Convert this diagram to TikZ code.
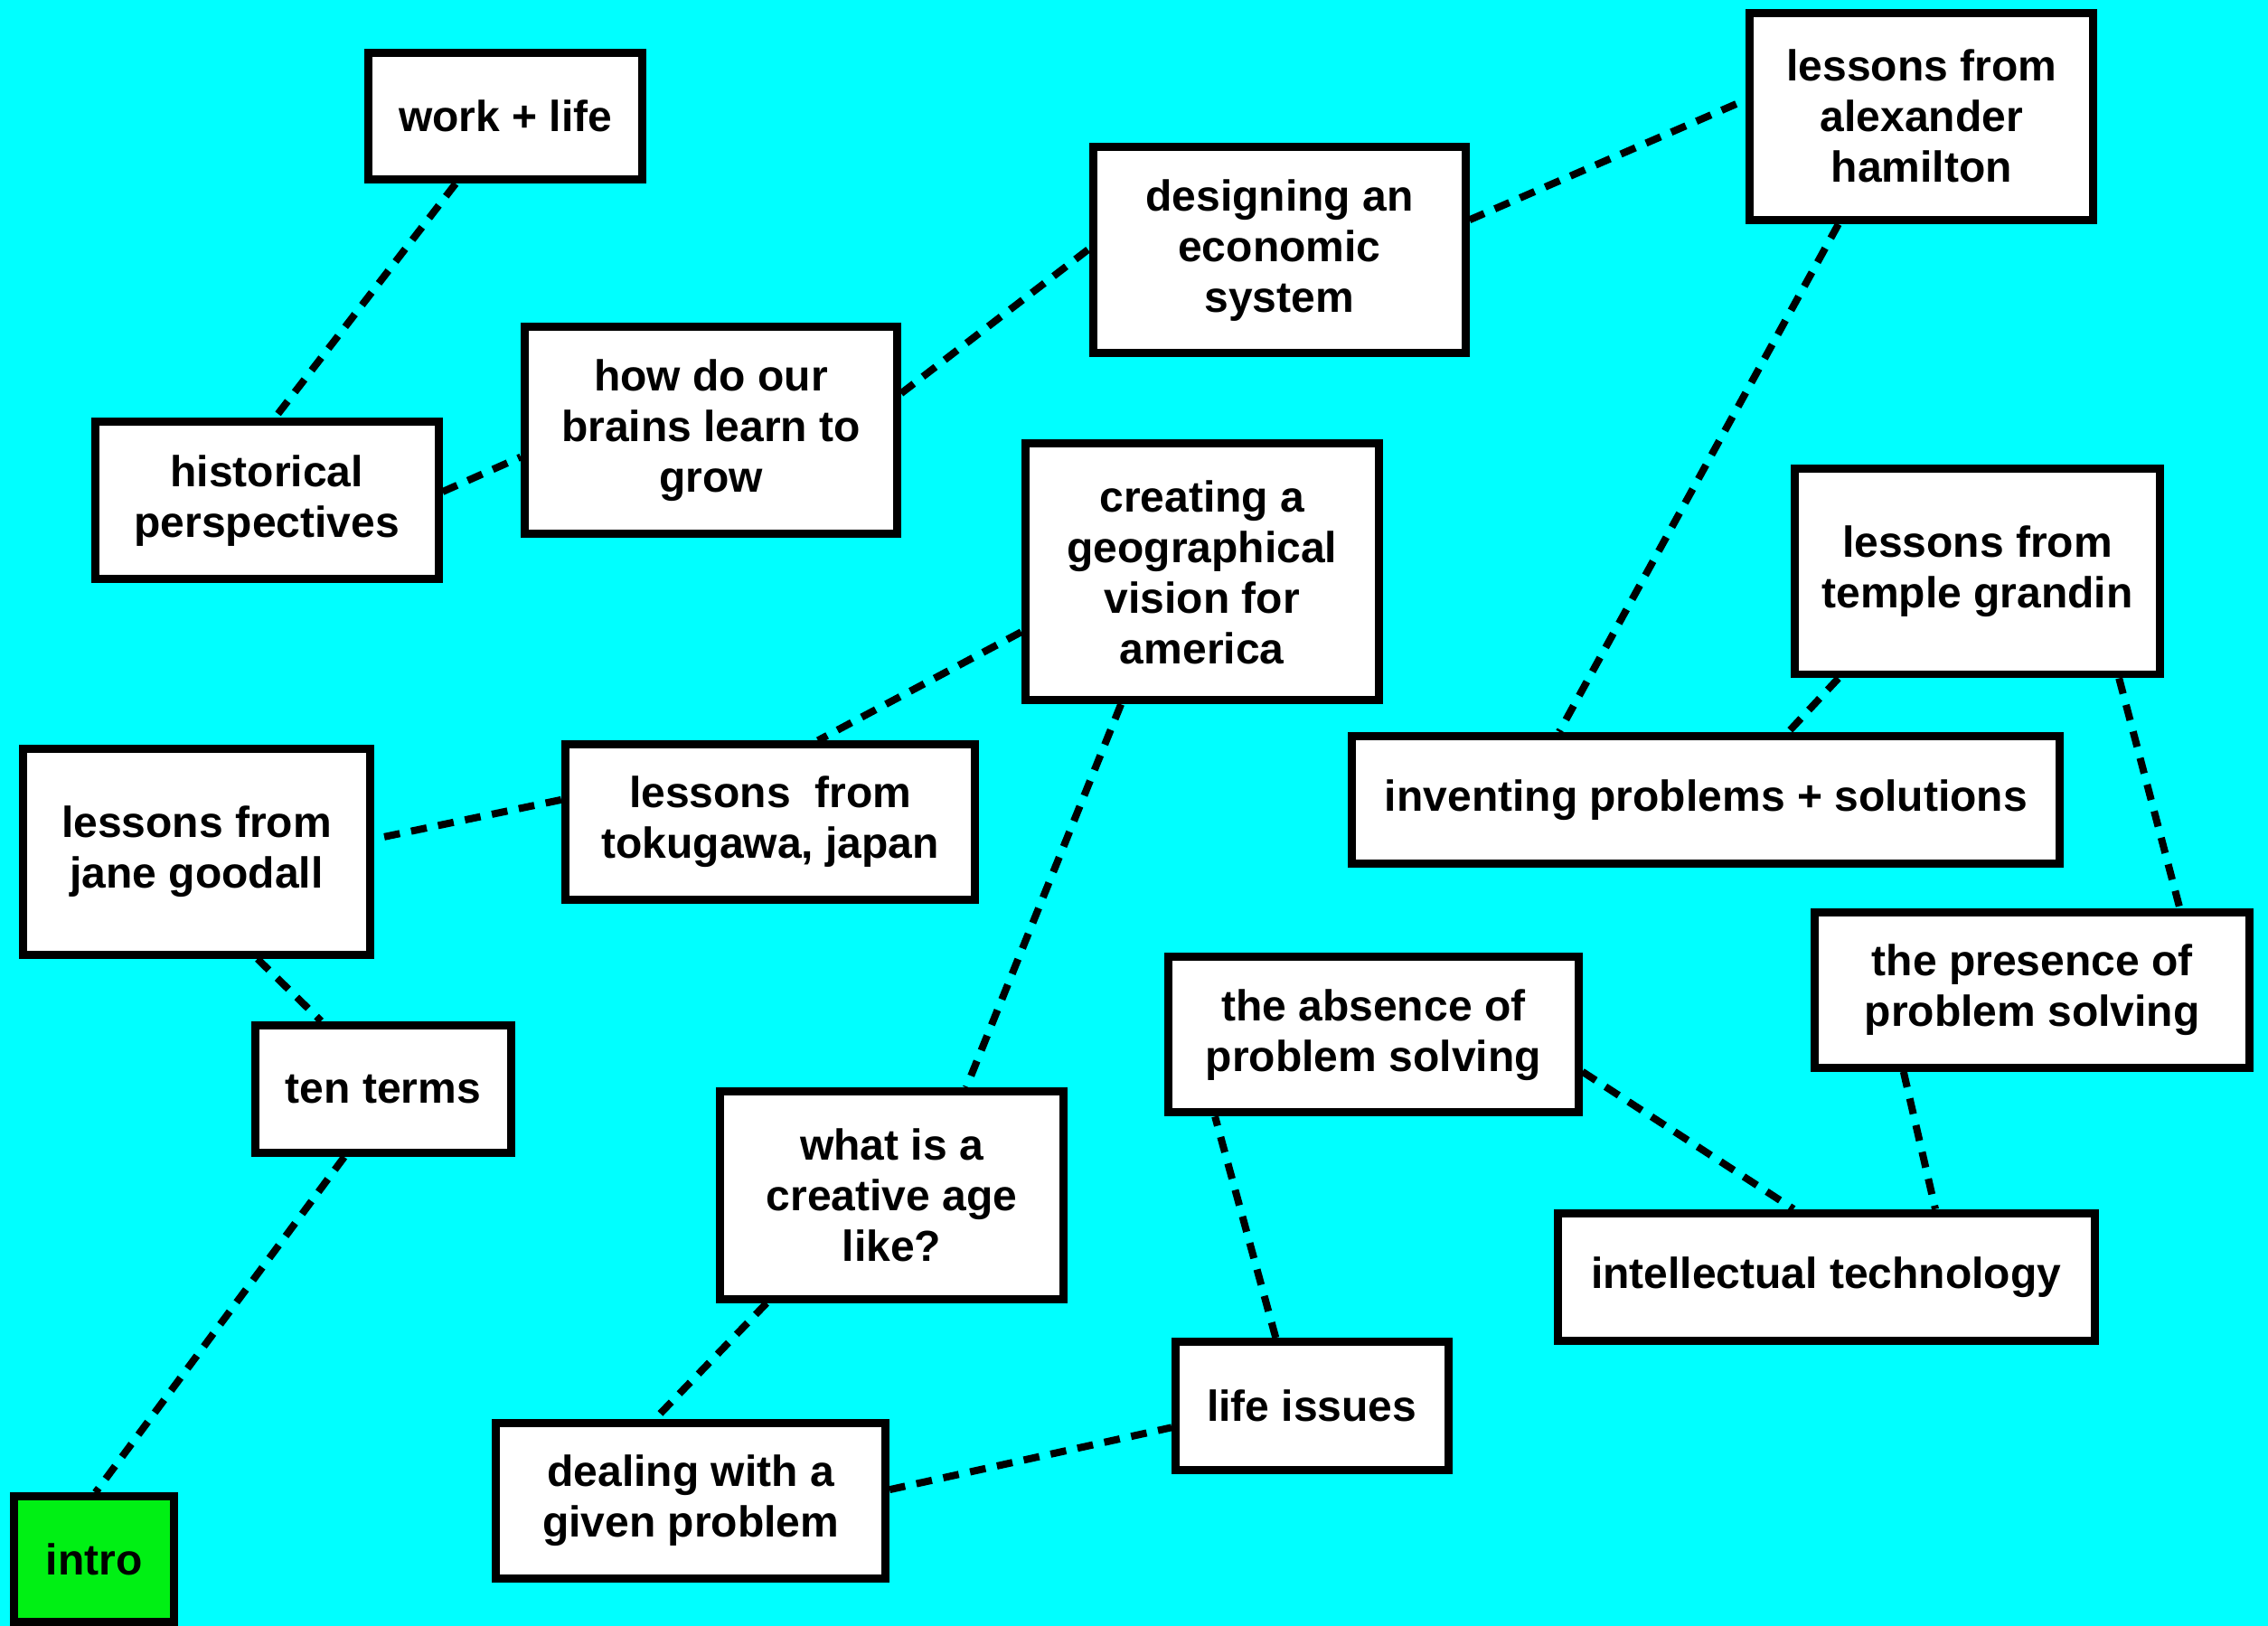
\documentclass[tikz,border=0pt]{standalone}
\usepackage{fontspec}
\setmainfont{Liberation Sans}
\usetikzlibrary{calc}
\definecolor{bgcyan}{RGB}{0,255,255}
\definecolor{introgreen}{RGB}{0,240,20}
\begin{document}
\begin{tikzpicture}[x=0.5pt,y=-0.5pt,
  box/.style={draw=black, line width=2.8pt, fill=white, inner sep=0pt, align=center,
    font=\fontsize{15pt}{17.5pt}\selectfont\bfseries},
  sz/.style 2 args={minimum width=#1*0.5pt-1.8pt, minimum height=#2*0.5pt-1.8pt},
  link/.style={draw=black, line width=2.5pt, dash pattern=on 5.5pt off 4pt}]
\path[fill=bgcyan] (0,0) rectangle (1568,1124);
\useasboundingbox (0,0) rectangle (1568,1124);

\node[box, sz={193}{91}] (wl) at (349.5,80.5) {work + life};
\node[box, sz={241}{112}] (hist) at (184.5,346) {historical\\perspectives};
\node[box, sz={261}{147}] (brain) at (491.5,297.5) {how do our\\brains learn to\\grow};
\node[box, sz={261}{146}] (design) at (884.5,173) {designing an\\economic\\system};
\node[box, sz={241}{147}] (ham) at (1328.5,80.5) {lessons from\\alexander\\hamilton};
\node[box, sz={248}{181}] (geo) at (831,395.5) {creating a\\geographical\\vision for\\america};
\node[box, sz={256}{146}] (temple) at (1367,395) {lessons from\\temple grandin};
\node[box, sz={493}{92}] (invent) at (1179.5,553) {inventing problems + solutions};
\node[box, sz={244}{146}] (jane) at (136,589) {lessons from\\jane goodall};
\node[box, sz={287}{111}] (toku) at (532.5,568.5) {lessons\ \ from\\tokugawa, japan};
\node[box, sz={180}{92}] (ten) at (265,753) {ten terms};
\node[box, sz={287}{111}] (absence) at (949.5,715.5) {the absence of\\problem solving};
\node[box, sz={304}{111}] (presence) at (1405,684.5) {the presence of\\problem solving};
\node[box, sz={241}{147}] (creative) at (616.5,826.5) {what is a\\creative age\\like?};
\node[box, sz={375}{92}] (intell) at (1262.5,883) {intellectual technology};
\node[box, sz={192}{92}] (life) at (907,972) {life issues};
\node[box, sz={273}{111}] (deal) at (477.5,1037.5) {dealing with a\\given problem};
\node[box, fill=introgreen, sz={114}{90}] (intro) at (65,1078) {intro};

\draw[link] ($(wl.south)+(-34.5,0)$) -- ($(hist.north)+(5.5,0)$);
\draw[link] ($(hist.east)+(0,-6)$) -- ($(brain.west)+(0,18.5)$);
\draw[link] ($(brain.east)+(0,-25.5)$) -- ($(design.west)+(0,-1)$);
\draw[link] ($(design.east)+(0,-21)$) -- ($(ham.west)+(0,-11.5)$);
\draw[link] ($(ham.south)+(-57.5,0)$) -- ($(invent.north)+(-101.5,0)$);
\draw[link] ($(temple.south)+(-96,0)$) -- ($(invent.north)+(57,0)$);
\draw[link] ($(temple.south)+(98,0)$) -- ($(presence.north)+(102,0)$);
\draw[link] ($(geo.west)+(0,41.5)$) -- ($(toku.north)+(33,0)$);
\draw[link] ($(toku.west)+(0,-15.5)$) -- ($(jane.east)+(0,-9)$);
\draw[link] ($(jane.south)+(42,0)$) -- ($(ten.north)+(-43,0)$);
\draw[link] ($(ten.south)+(-27,0)$) -- ($(intro.north)+(1,0)$);
\draw[link] ($(geo.south)+(-56,0)$) -- ($(creative.north)+(51.5,0)$);
\draw[link] ($(creative.south)+(-86.5,0)$) -- ($(deal.north)+(-24.5,0)$);
\draw[link] ($(deal.east)+(0,-7.5)$) -- ($(life.west)+(0,15)$);
\draw[link] ($(life.north)+(-25,0)$) -- ($(absence.south)+(-109.5,0)$);
\draw[link] ($(absence.east)+(0,25.5)$) -- ($(intell.north)+(-22.5,0)$);
\draw[link] ($(presence.south)+(-89,0)$) -- ($(intell.north)+(75.5,0)$);
\end{tikzpicture}
\end{document}
